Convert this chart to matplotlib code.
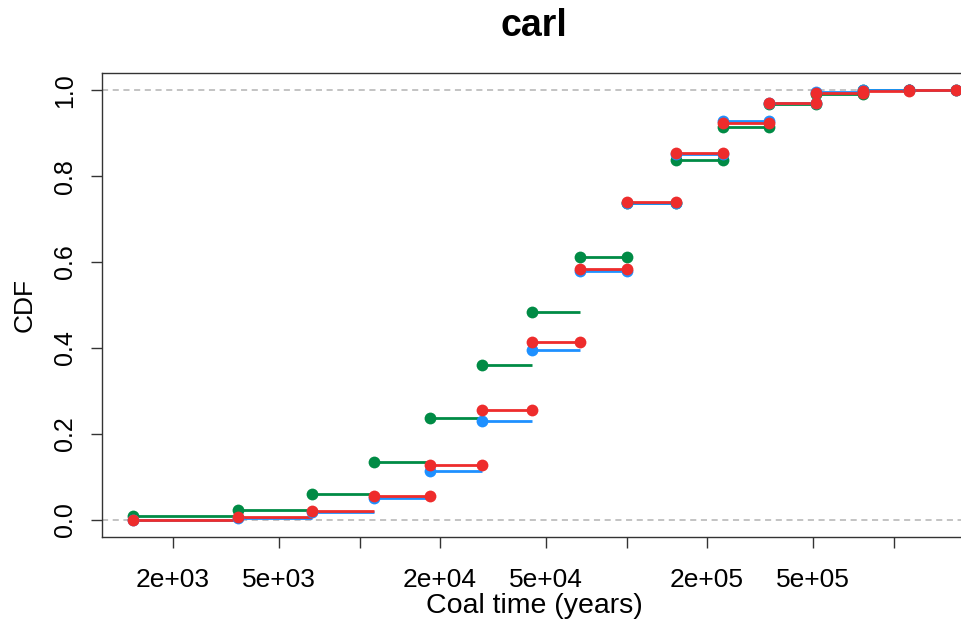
import numpy as np
import matplotlib
matplotlib.use('Agg')
from matplotlib import pyplot as plt

# bin edges (years) of the step function
edges = [1420, 3500, 6640, 11300, 18400, 28700, 44200, 66900, 100000,
         153000, 230000, 341000, 512000, 768000, 1140000, 1710000]

# CDF value on each bin, one list per run
green = [0.008, 0.023, 0.060, 0.135, 0.238, 0.360, 0.483, 0.612, 0.737,
         0.838, 0.915, 0.967, 0.990, 1.000, 1.000]
blue = [0.000, 0.005, 0.018, 0.050, 0.113, 0.230, 0.395, 0.578, 0.737,
        0.852, 0.928, 0.970, 0.995, 1.000, 1.000]
red = [0.000, 0.007, 0.020, 0.056, 0.127, 0.255, 0.413, 0.583, 0.740,
       0.853, 0.923, 0.970, 0.993, 0.998, 1.000]

# first bin from which the right end of a segment also gets a point
right_from = {'green': 7, 'blue': 7, 'red': 3}

colors = {'green': '#008B45', 'blue': '#1E90FF', 'red': '#EE2C2C'}

xticks = [2e3, 5e3, 1e4, 2e4, 5e4, 1e5, 2e5, 5e5, 1e6]
xticklabels = ['2e+03', '5e+03', '', '2e+04', '5e+04', '', '2e+05', '5e+05', '']
yticks = [0.0, 0.2, 0.4, 0.6, 0.8, 1.0]

plt.rcParams['font.family'] = ['Liberation Sans', 'DejaVu Sans']

W, H = 962, 621
fig = plt.figure(figsize=(W / 100, H / 100), dpi=100)
# axes box in pixels: left 102, top 73, bottom 537, right just off the picture
ax = fig.add_axes([102 / W, (H - 537) / H, (966 - 102) / W, (537 - 73) / H])
ax.set_xscale('log')
ax.set_xlim(10 ** 3.035, 10 ** 6.271)
ax.set_ylim(-0.04, 1.04)

for y in (0.0, 1.0):
    ax.axhline(y, color='#B3B3B3', lw=1.1, ls=(0, (4, 3)), zorder=1)


def draw(name, vals):
    c = colors[name]
    for i, v in enumerate(vals):
        x0, x1 = edges[i], edges[i + 1]
        ax.plot([x0, x1], [v, v], color=c, lw=2.0, solid_capstyle='butt', zorder=2)
        ax.plot([x0], [v], 'o', color=c, ms=8.5, mew=0, zorder=3)
        if i >= right_from[name]:
            ax.plot([x1], [v], 'o', color=c, ms=8.5, mew=0, zorder=3)


draw('green', green)
draw('blue', blue)
draw('red', red)

ax.set_xticks(xticks)
ax.set_xticklabels(xticklabels)
ax.xaxis.set_minor_locator(matplotlib.ticker.NullLocator())
ax.set_yticks(yticks)
ax.set_yticklabels(['%.1f' % t for t in yticks], rotation=90, va='center')
ax.tick_params(axis='both', length=8, width=1, labelsize=18, colors='#333333',
               labelcolor='black')
ax.tick_params(axis='x', pad=14, labelsize=19)
ax.tick_params(axis='y', pad=10)
for s in ax.spines.values():
    s.set_linewidth(1)
    s.set_color('#333333')

ax.set_xlabel('Coal time (years)', fontsize=20.5, labelpad=1)
ax.set_ylabel('CDF', fontsize=19, labelpad=12)
fig.text(534 / W, 1 - 26 / H, 'carl', fontsize=27, fontweight='bold',
         ha='center', va='center')

fig.savefig('out.png', dpi=100)
